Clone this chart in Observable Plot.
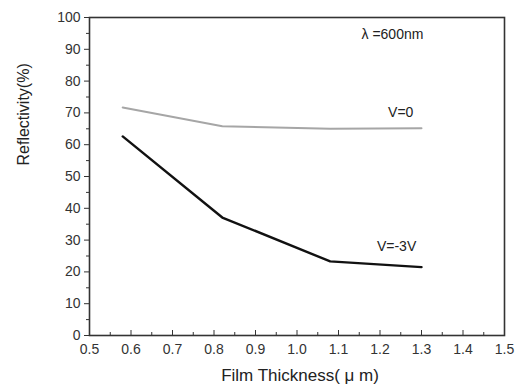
<!DOCTYPE html>
<html>
<head>
<meta charset="utf-8">
<script src="https://cdn.jsdelivr.net/npm/d3@7"></script>
<script src="https://cdn.jsdelivr.net/npm/@observablehq/plot@0.6"></script>
<style>
  body { margin: 0; background: #fff; }
  #chart svg { display: block; }
</style>
</head>
<body>
<div id="chart"></div>
<script>
const thickness = [0.58, 0.82, 1.08, 1.30];
const reflV0 = [71.7, 65.8, 65.0, 65.2];
const reflV3 = [62.6, 37.1, 23.3, 21.5];
const xTicks = [0.5, 0.6, 0.7, 0.8, 0.9, 1.0, 1.1, 1.2, 1.3, 1.4, 1.5];
const xMinor = [0.55, 0.65, 0.75, 0.85, 0.95, 1.05, 1.15, 1.25, 1.35, 1.45];
const yTicks = [0, 10, 20, 30, 40, 50, 60, 70, 80, 90, 100];
const yMinor = [5, 15, 25, 35, 45, 55, 65, 75, 85, 95];
const labels = [
  {x: 1.23, y: 94.5, text: "λ =600nm"},
  {x: 1.25, y: 70, text: "V=0"},
  {x: 1.24, y: 28, text: "V=-3V"}
];

const v0 = thickness.map((t, i) => ({x: t, y: reflV0[i]}));
const v3 = thickness.map((t, i) => ({x: t, y: reflV3[i]}));

const axisColor = "#333";
const chart = Plot.plot({
  width: 521,
  height: 392,
  marginLeft: 89,
  marginRight: 17,
  marginTop: 17,
  marginBottom: 57,
  style: {fontFamily: "Liberation Sans, Arial, sans-serif", fontSize: "14px", color: axisColor, background: "#fff"},
  x: {domain: [0.5, 1.5]},
  y: {domain: [0, 100]},
  marks: [
    Plot.frame({stroke: axisColor, strokeWidth: 1.6}),
    Plot.axisY({ticks: yTicks, tickSize: 5, tickPadding: 4, tickFormat: d => String(d), label: null, stroke: axisColor, fontSize: 14, fill: "#333"}),
    Plot.axisY({ticks: yMinor, tickSize: 3, tickFormat: () => "", label: null, stroke: axisColor}),
    Plot.axisX({ticks: xTicks, tickSize: -5, tickPadding: 14, tickFormat: d3.format(".1f"), label: null, stroke: axisColor, fontSize: 14, fill: "#333"}),
    Plot.axisX({ticks: xMinor, tickSize: -3, tickFormat: () => "", label: null, stroke: axisColor}),
    Plot.line(v0, {x: "x", y: "y", stroke: "#a6a6a6", strokeWidth: 2}),
    Plot.line(v3, {x: "x", y: "y", stroke: "#111", strokeWidth: 2.4}),
    Plot.text(labels, {x: "x", y: "y", text: "text", fontSize: 14, fill: "#222", textAnchor: "middle", letterSpacing: "0.6px"}),
    Plot.text(["Reflectivity(%)"], {frameAnchor: "left", dx: -66, dy: -11, rotate: -90, fontSize: 16, fill: "#222", letterSpacing: "1px"}),
    Plot.text(["Film Thickness( μ m)"], {frameAnchor: "bottom", dy: 45, dx: 3, fontSize: 17, fill: "#222", letterSpacing: "1px"})
  ]
});
document.getElementById("chart").appendChild(chart);
</script>
</body>
</html>
